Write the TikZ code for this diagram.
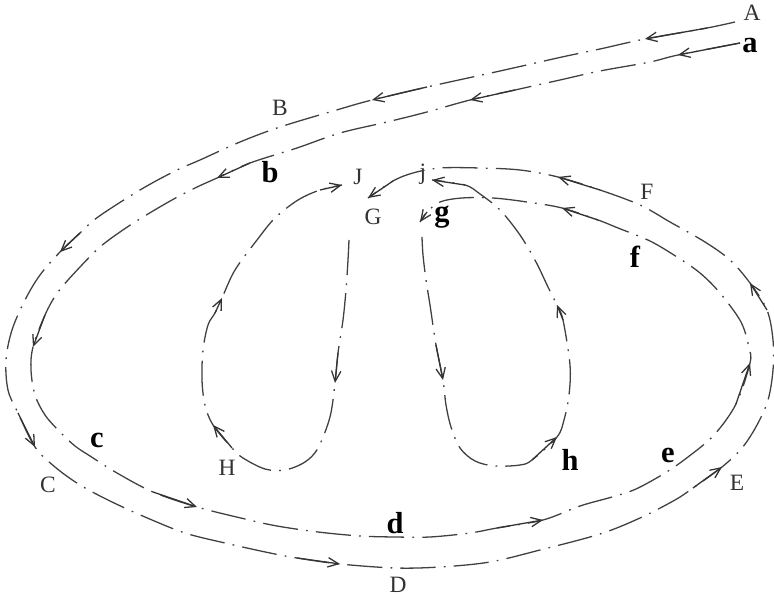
\documentclass[tikz,border=0pt]{standalone}
\usepackage{fontspec}
\setmainfont{Liberation Serif}
\usetikzlibrary{arrows.meta}

\begin{document}
\begin{tikzpicture}[
  x=0.03cm, y=-0.03cm,
  track/.style={draw=black!75, line width=1.1pt, dash pattern=on 30pt off 7pt on 1.5pt off 7pt, smooth, tension=0.55},
  arr/.style={draw=black!80, line width=1.1pt, -{Straight Barb[length=9pt,width=8pt]}},
  low/.style={font=\fontsize{26}{26}\selectfont\bfseries, inner sep=0pt},
  up/.style={font=\fontsize{20}{20}\selectfont, text=black!80, inner sep=0pt}
]
  \useasboundingbox (0,0) rectangle (774,601);

  % labels
  \node[up]  (A) at (752,13)  {A};
  \node[low] (a) at (750,46)  {a};
  \node[up]  (B) at (280,108) {B};
  \node[low] (b) at (270,172) {b};
  \node[up]  (C) at (48,485)  {C};
  \node[low] (c) at (97,440)  {c};
  \node[up]  (D) at (398,585) {D};
  \node[low] (d) at (395,523) {d};
  \node[up]  (E) at (737,483) {E};
  \node[low] (e) at (668,455) {e};
  \node[up]  (F) at (647,192) {F};
  \node[low] (f) at (635,257) {f};
  \node[up]  (J) at (358,177) {J};
  \node[up]  (j) at (423,174) {j};
  \node[up]  (G) at (373,217) {G};
  \node[low] (g) at (442,217) {g};
  \node[up]  (H) at (227,468) {H};
  \node[low] (h) at (570,460) {h};

  % outer track A ... G
  \draw[track] plot coordinates {(735,22) (707,28) (645,39) (600,49) (562,57) (500,71) (427,87) (372,100)
    (340,109) (280,127) (240,142) (200,160) (175,171) (140,190) (98,217) (80,233) (60,252) (40,275)
    (25,300) (12,330) (6,360) (8,390) (18,413) (35,447) (55,467) (80,485) (110,501) (145,517)
    (185,533) (225,543) (270,553) (297,558) (340,564) (395,568) (440,567) (490,562) (540,550)
    (600,534) (640,518) (675,500) (693,488) (722,467) (742,448) (757,425) (768,400) (773,370)
    (773,340) (767,310) (750,283) (730,260) (705,242) (670,222) (640,205) (600,190) (558,177)
    (520,170) (480,168) (440,168) (413,173) (393,181) (368,198)};

  % inner track a ... g
  \draw[track] plot coordinates {(740,43) (678,55) (650,62) (600,71) (560,80) (515,90) (470,100)
    (427,112) (387,122) (340,133) (297,148) (250,163) (217,178) (195,188) (172,200) (143,217)
    (120,232) (100,247) (80,267) (58,292) (45,315) (33,347) (31,370) (35,395) (45,415) (60,432)
    (75,446) (90,456) (117,473) (153,492) (197,507) (245,519) (277,526) (318,532) (360,536)
    (395,537) (430,537) (470,533) (497,528) (543,520) (580,506) (612,497) (636,489) (665,473)
    (688,457) (714,435) (736,404) (750,363) (749,348) (741,322) (720,293) (700,273) (677,257)
    (650,241) (618,228) (598,220) (562,208) (527,202) (493,198) (462,198) (440,202) (427,212) (420,222)};

  % loop G H J
  \draw[track] plot coordinates {(349,240) (348,260) (346,290) (343,320) (338,353) (335,383)
    (330,417) (318,448) (305,462) (285,470) (265,469) (243,458) (232,448) (213,425) (205,405)
    (202,380) (203,350) (208,325) (215,313) (222,298) (235,270) (257,240) (275,218) (298,200)
    (320,190) (342,185)};

  % loop g h j
  \draw[track] plot coordinates {(422,237) (423,255) (426,280) (430,305) (436,345) (443,380)
    (446,405) (451,427) (460,448) (475,461) (495,466) (520,465) (532,460) (557,437) (564,420)
    (569,395) (570,365) (563,320) (557,305) (548,287) (536,262) (520,235) (500,210) (480,194)
    (465,185) (432,180)};

  % arrows
  \draw[arr] (707,28) -- (645,39);
  \draw[arr] (740,43) -- (678,55);
  \draw[arr] (427,87) -- (372,100);
  \draw[arr] (515,90) -- (470,100);
  \draw[arr] (250,163) -- (217,178);
  \draw[arr] (80,233) -- (60,252);
  \draw[arr] (45,315) -- (33,347);
  \draw[arr] (18,413) -- (35,447);
  \draw[arr] (153,492) -- (197,507);
  \draw[arr] (297,558) -- (340,564);
  \draw[arr] (497,528) -- (543,520);
  \draw[arr] (693,488) -- (722,467);
  \draw[arr] (736,404) -- (750,363);
  \draw[arr] (767,310) -- (750,283);
  \draw[arr] (600,190) -- (558,177);
  \draw[arr] (598,220) -- (562,208);
  \draw[arr] (393,181) -- (368,198);
  \draw[arr] (427,212) -- (420,222);
  \draw[arr] (338,353) -- (335,383);
  \draw[arr] (232,448) -- (213,425);
  \draw[arr] (215,313) -- (222,298);
  \draw[arr] (320,190) -- (342,185);
  \draw[arr] (436,345) -- (443,380);
  \draw[arr] (532,460) -- (557,437);
  \draw[arr] (563,320) -- (557,305);
  \draw[arr] (465,185) -- (432,180);
\end{tikzpicture}
\end{document}
